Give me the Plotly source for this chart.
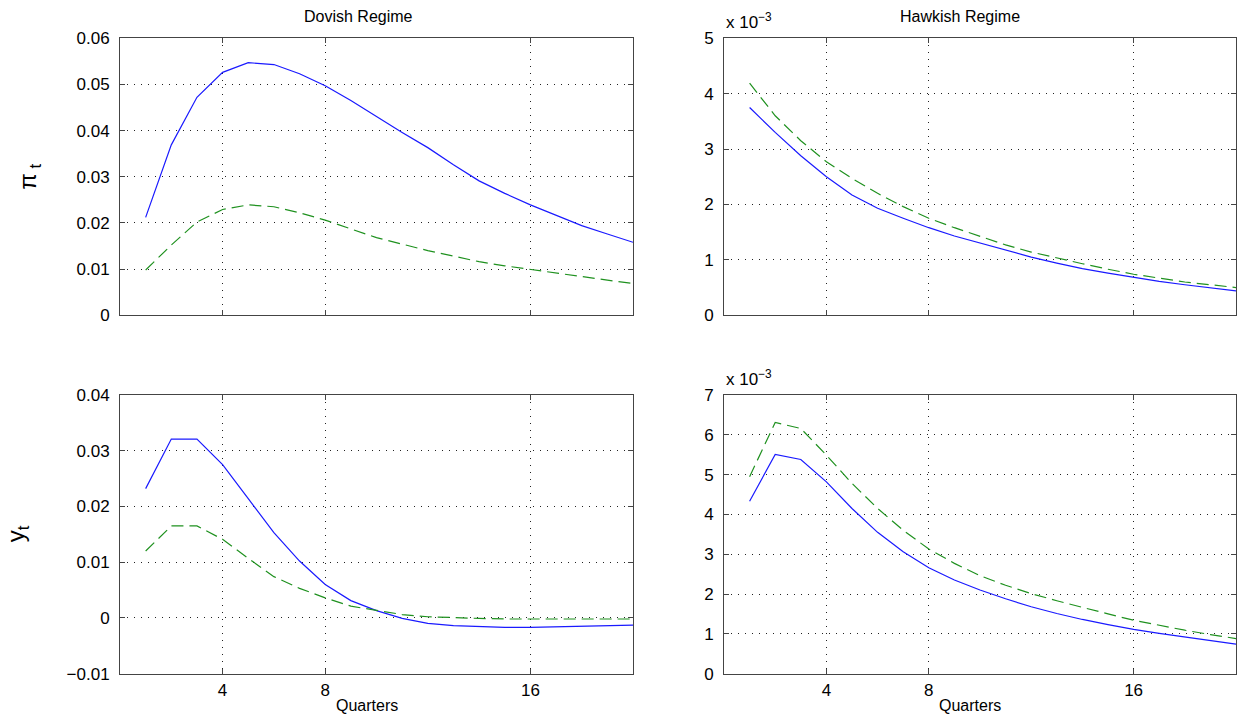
import plotly.graph_objects as go

# ---------------- data ----------------
quarters = list(range(1, 21))

# Dovish regime, inflation pi_t
dovish_pi_solid = [0.0212, 0.0369, 0.0472, 0.0526, 0.0547, 0.0543, 0.0523, 0.0497, 0.0465, 0.0430,
                   0.0396, 0.0363, 0.0326, 0.0291, 0.0264, 0.0239, 0.0216, 0.0194, 0.0176, 0.0158]
dovish_pi_dash = [0.0098, 0.0152, 0.0202, 0.0229, 0.0239, 0.0235, 0.0222, 0.0206, 0.0187, 0.0168,
                  0.0154, 0.0140, 0.0128, 0.0116, 0.0107, 0.0099, 0.0091, 0.0083, 0.0076, 0.0069]

# Hawkish regime, inflation pi_t (units of 1e-3)
hawkish_pi_solid = [3.75, 3.30, 2.88, 2.50, 2.17, 1.93, 1.75, 1.58, 1.43, 1.30,
                    1.17, 1.05, 0.94, 0.84, 0.76, 0.68, 0.61, 0.55, 0.49, 0.44]
hawkish_pi_dash = [4.19, 3.60, 3.15, 2.77, 2.47, 2.20, 1.96, 1.75, 1.58, 1.42,
                   1.27, 1.14, 1.03, 0.93, 0.83, 0.74, 0.67, 0.60, 0.55, 0.50]

# Dovish regime, output gap y_t
dovish_y_solid = [0.0232, 0.0321, 0.0321, 0.0275, 0.0214, 0.0153, 0.0102, 0.0060, 0.0031, 0.0013,
                  -0.0001, -0.0010, -0.0014, -0.0016, -0.0017, -0.0017, -0.0016, -0.0015, -0.0014, -0.0013]
dovish_y_dash = [0.0120, 0.0165, 0.0165, 0.0141, 0.0107, 0.0074, 0.0053, 0.0036, 0.0021, 0.0013,
                 0.0006, 0.0002, 0.0000, -0.0001, -0.0002, -0.0002, -0.0002, -0.0002, -0.0002, -0.0002]

# Hawkish regime, output gap y_t (units of 1e-3)
hawkish_y_solid = [4.33, 5.51, 5.38, 4.82, 4.15, 3.55, 3.06, 2.66, 2.35, 2.10,
                   1.88, 1.68, 1.51, 1.36, 1.23, 1.11, 1.01, 0.92, 0.83, 0.74]
hawkish_y_dash = [4.95, 6.31, 6.16, 5.49, 4.78, 4.15, 3.60, 3.13, 2.77, 2.46,
                  2.22, 2.01, 1.83, 1.66, 1.50, 1.34, 1.21, 1.09, 0.98, 0.88]

x_ticks = [4, 8, 16]
x_ticklabels = ["4", "8", "16"]
dov_pi_ticks = [0, 0.01, 0.02, 0.03, 0.04, 0.05, 0.06]
dov_pi_labels = ["0", "0.01", "0.02", "0.03", "0.04", "0.05", "0.06"]
dov_y_ticks = [-0.01, 0, 0.01, 0.02, 0.03, 0.04]
dov_y_labels = ["\u22120.01", "0", "0.01", "0.02", "0.03", "0.04"]
hawk_pi_ticks = [0, 1, 2, 3, 4, 5]
hawk_y_ticks = [0, 1, 2, 3, 4, 5, 6, 7]

titles = ["Dovish Regime", "Hawkish Regime"]
row_labels = ["\u03c0<sub> t</sub>", "y<sub>t</sub>"]
x_title = "Quarters"
scale_note = "x 10<sup>\u22123</sup>"

# ---------------- layout geometry ----------------
W, H = 1240, 723
def px_x(a, b):
    return [a / W, b / W]
def px_y(top, bottom):
    return [(H - bottom) / H, (H - top) / H]

L = px_x(120, 633)
R = px_x(724, 1236)
T = px_y(30, 314.5)
B = px_y(396.5, 682.5)

FONT = "Liberation Sans, Arial, Helvetica, sans-serif"
BLUE = "#1a1aff"
GREEN = "#1f911f"
FRAME = "#444444"
TICK_SIZE = 17

fig = go.Figure()

panels = [
    ("x", "y", dovish_pi_solid, dovish_pi_dash),
    ("x2", "y2", hawkish_pi_solid, hawkish_pi_dash),
    ("x3", "y3", dovish_y_solid, dovish_y_dash),
    ("x4", "y4", hawkish_y_solid, hawkish_y_dash),
]
for xa, ya, solid, dash in panels:
    fig.add_trace(go.Scatter(x=quarters, y=solid, mode="lines", xaxis=xa, yaxis=ya,
                             line=dict(color=BLUE, width=1.2), showlegend=False, hoverinfo="skip"))
    fig.add_trace(go.Scatter(x=quarters, y=dash, mode="lines", xaxis=xa, yaxis=ya,
                             line=dict(color=GREEN, width=1.2, dash="12px,6px"), showlegend=False,
                             hoverinfo="skip"))

def xaxis(domain, anchor, labels):
    return dict(domain=domain, anchor=anchor, range=[0, 20],
                tickvals=x_ticks, ticktext=x_ticklabels if labels else None,
                showticklabels=labels,
                ticks="inside", ticklen=5, tickcolor=FRAME, mirror="ticks",
                showline=True, linecolor=FRAME, linewidth=1,
                showgrid=True, gridcolor="#222222", gridwidth=1, griddash="1px,6px",
                zeroline=False, ticklabelstandoff=1,
                tickfont=dict(family=FONT, size=TICK_SIZE, color="black"))

def yaxis(domain, anchor, rng, vals, text):
    return dict(domain=domain, anchor=anchor, range=rng,
                tickvals=vals, ticktext=text,
                ticks="inside", ticklen=5, tickcolor=FRAME, mirror="ticks",
                showline=True, linecolor=FRAME, linewidth=1,
                showgrid=True, gridcolor="#222222", gridwidth=1, griddash="1px,6px",
                zeroline=False, ticklabelstandoff=6,
                tickfont=dict(family=FONT, size=TICK_SIZE, color="black"))

fig.update_layout(
    width=W, height=H, autosize=False,
    margin=dict(l=0, r=0, t=0, b=0),
    paper_bgcolor="white", plot_bgcolor="white",
    font=dict(family=FONT, color="black"),
    xaxis=xaxis(L, "y", False),
    yaxis=yaxis(T, "x", [0, 0.06], dov_pi_ticks, dov_pi_labels),
    xaxis2=xaxis(R, "y2", False),
    yaxis2=yaxis(T, "x2", [0, 5], hawk_pi_ticks, [str(v) for v in hawk_pi_ticks]),
    xaxis3=xaxis(L, "y3", True),
    yaxis3=yaxis(B, "x3", [-0.01, 0.04], dov_y_ticks, dov_y_labels),
    xaxis4=xaxis(R, "y4", True),
    yaxis4=yaxis(B, "x4", [0, 7], hawk_y_ticks, [str(v) for v in hawk_y_ticks]),
)

ann = []
# column titles
ann.append(dict(text=titles[0], x=358 / W, y=1 - 7.5 / H, xref="paper", yref="paper",
                xanchor="center", yanchor="middle", showarrow=False, font=dict(family=FONT, size=16)))
ann.append(dict(text=titles[1], x=960 / W, y=1 - 7.5 / H, xref="paper", yref="paper",
                xanchor="center", yanchor="middle", showarrow=False, font=dict(family=FONT, size=16)))
# row labels
ann.append(dict(text=row_labels[0], x=30 / W, y=(T[0] + T[1]) / 2, xref="paper", yref="paper",
                xanchor="center", yanchor="middle", textangle=-90, showarrow=False,
                font=dict(family=FONT, size=24)))
ann.append(dict(text=row_labels[1], x=17 / W, y=(B[0] + B[1]) / 2, xref="paper", yref="paper",
                xanchor="center", yanchor="middle", textangle=-90, showarrow=False,
                font=dict(family=FONT, size=24)))
# x-axis titles
for cx in (367, 970):
    ann.append(dict(text=x_title, x=cx / W, y=0, xref="paper", yref="paper",
                    xanchor="center", yanchor="bottom", yshift=-2, showarrow=False,
                    borderpad=0, font=dict(family=FONT, size=16)))
# scale notes
for top in (T[1], B[1]):
    ann.append(dict(text=scale_note, x=R[0], y=top, xref="paper", yref="paper",
                    xanchor="left", yanchor="bottom", yshift=4, showarrow=False,
                    font=dict(family=FONT, size=17)))

fig.update_layout(annotations=ann)
fig.write_html("out.html",
               config={"displayModeBar": False},
               post_script="document.body.style.margin='0';document.body.style.overflow='hidden';")
